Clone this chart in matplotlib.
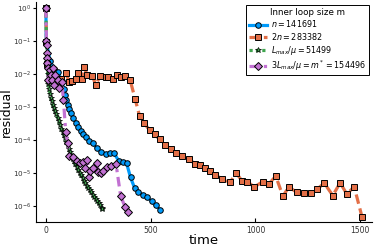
import numpy as np
import matplotlib
matplotlib.use("Agg")
import matplotlib.pyplot as plt
from matplotlib.ticker import FixedLocator, FuncFormatter, NullLocator

# n = 141691
t_n = [0, 2, 20, 40, 57, 75, 85, 92, 96, 105, 112, 120, 131, 144, 155, 168, 179, 192,
       208, 224, 243, 262, 287, 306, 325, 349, 368, 385, 404, 423, 442, 463, 482, 505,
       524, 545]
r_n = [1.0, 1e-1, 2.5e-2, 1.4e-2, 1.15e-2, 6.3e-3, 3.5e-3, 2.3e-3, 1.6e-3, 1.15e-3,
       8.5e-4, 6.5e-4, 4.6e-4, 3.3e-4, 2.5e-4, 1.9e-4, 1.5e-4, 1.2e-4, 9.5e-5, 8.1e-5,
       5.6e-5, 4.5e-5, 3.8e-5, 4.0e-5, 4.0e-5, 2.3e-5, 2.2e-5, 2.0e-5, 7.4e-6, 3.6e-6,
       2.7e-6, 2.2e-6, 1.9e-6, 1.4e-6, 1.05e-6, 7.9e-7]

# 2n = 283382
t_2n = [0, 3, 6, 20, 45, 70, 95, 111, 124, 143, 155, 171, 182, 198, 222, 238, 259, 285,
        298, 319, 338, 358, 378, 402, 426, 447, 470, 495, 519, 543, 569, 595, 621, 649,
        681, 712, 736, 760, 784, 808, 840, 879, 908, 935, 962, 994, 1035, 1064, 1097,
        1131, 1159, 1198, 1232, 1264, 1293, 1328, 1369, 1404, 1436, 1471, 1508]
r_2n = [1.0, 9e-2, 2.0e-2, 1.0e-2, 8.0e-3, 7.0e-3, 1.1e-2, 5.9e-3, 6.2e-3, 7.1e-3, 1.1e-2,
        6.9e-3, 1.66e-2, 9.1e-3, 8.7e-3, 4.7e-3, 8.7e-3, 8.3e-3, 7.9e-3, 6.9e-3, 9.1e-3,
        8.1e-3, 8.7e-3, 6.6e-3, 1.74e-3, 5.4e-4, 3.2e-4, 2.0e-4, 1.48e-4, 1.05e-4, 7.1e-5,
        5.4e-5, 4.2e-5, 3.4e-5, 2.6e-5, 1.95e-5, 1.7e-5, 1.45e-5, 1.17e-5, 8.7e-6, 6.8e-6,
        5.2e-6, 1.02e-5, 5.9e-6, 5.5e-6, 3.8e-6, 5.5e-6, 4.7e-6, 8.1e-6, 2.0e-6, 3.8e-6,
        2.6e-6, 2.45e-6, 2.5e-6, 3.2e-6, 5.0e-6, 2.1e-6, 5.1e-6, 2.3e-6, 3.9e-6, 4.8e-7]

# L_max / mu = 51499
t_L = [0, 3, 6, 9, 12, 16, 20, 24, 28, 33, 38, 44, 50, 56, 62, 68, 74, 80, 86, 92, 98,
       104, 110, 116, 122, 128, 134, 140, 147, 154, 161, 168, 175, 182, 189, 196, 203,
       210, 217, 224, 231, 238, 245, 252, 259, 266, 270]
r_L = [1.0, 1e-1, 2.0e-2, 1.0e-2, 5.0e-3, 3.5e-3, 2.5e-3, 1.9e-3, 1.5e-3, 1.12e-3,
       9.3e-4, 7.6e-4, 6.0e-4, 4.8e-4, 3.7e-4, 2.8e-4, 2.2e-4, 1.8e-4, 1.45e-4, 1.17e-4,
       8.9e-5, 7.2e-5, 5.5e-5, 4.4e-5, 3.4e-5, 2.75e-5, 2.3e-5, 1.9e-5, 1.55e-5, 1.26e-5,
       1.02e-5, 8.5e-6, 6.9e-6, 5.8e-6, 4.9e-6, 4.2e-6, 3.5e-6, 3.0e-6, 2.6e-6, 2.2e-6,
       1.9e-6, 1.66e-6, 1.41e-6, 1.23e-6, 1.05e-6, 8.9e-7, 8.3e-7]

# 3 L_max / mu = m* = 154496
t_3L = [0, 3, 4, 5, 6, 7, 9, 12, 20, 24, 28, 36, 40, 44, 60, 64, 76, 84, 95, 105, 112,
        128, 147, 163, 179, 187, 198, 208, 211, 224, 243, 251, 262, 274, 294, 311, 335,
        357, 378, 394]
r_3L = [1.0, 1.0e-1, 7.6e-2, 4.3e-2, 3.0e-2, 2.1e-2, 1.48e-2, 6.6e-3, 1.32e-2, 9.3e-3,
        6.6e-3, 1.48e-2, 4.7e-3, 9.3e-3, 6.6e-3, 3.7e-3, 5.9e-3, 1.6e-3, 1.74e-4, 8.1e-5,
        3.3e-5, 3.0e-5, 2.3e-5, 2.0e-5, 2.2e-5, 1.38e-5, 2.45e-5, 7.4e-6, 1.17e-5, 1.38e-5,
        2.0e-5, 1.1e-5, 9.8e-6, 1.17e-5, 1.48e-5, 1.62e-5, 1.86e-5, 2.0e-6, 9.5e-7, 6.8e-7]

labels = [r"$n = 141691$", r"$2n = 283382$", r"$L_{max}/\mu = 51499$",
          r"$3L_{max}/\mu = m^* = 154496$"]
y_ticks = [1e0, 1e-1, 1e-2, 1e-3, 1e-4, 1e-5, 1e-6]
x_ticks = [0, 500, 1000, 1500]


def sci(v, pos):
    e = int(round(np.log10(v)))
    return r"$10^{%d}$" % e


fig = plt.figure(figsize=(3.74, 2.49), dpi=100)
ax = fig.add_axes([36 / 374, 27 / 249, 336 / 374, 220 / 249])

ax.plot(t_n, r_n, color="#009AFA", lw=2.3, ls="-", marker="o", ms=4.0,
        mfc="#009AFA", mec="black", mew=0.7, label=labels[0])
ax.plot(t_2n, r_2n, color="#E36F47", lw=2.3, ls=(0, (3, 1.5)), marker="s", ms=3.8,
        mfc="#E36F47", mec="black", mew=0.7, label=labels[1])
ax.plot(t_L, r_L, color="#3EA44E", lw=2.3, ls=(0, (1, 1)), marker="*", ms=4.0,
        mfc="#3EA44E", mec="black", mew=0.5, label=labels[2])
ax.plot(t_3L, r_3L, color="#C271D2", lw=2.3, ls=(0, (3, 1.5, 1, 1.5)), marker="D", ms=3.6,
        mfc="#C271D2", mec="black", mew=0.7, label=labels[3])

ax.set_yscale("log")
ax.set_xlim(-47, 1556)
ax.set_ylim(10 ** -6.48, 10 ** 0.18)
ax.set_xticks(x_ticks)
ax.yaxis.set_major_locator(FixedLocator(y_ticks))
ax.yaxis.set_major_formatter(FuncFormatter(sci))
ax.yaxis.set_minor_locator(NullLocator())

for s in ["top", "right"]:
    ax.spines[s].set_visible(False)
ax.tick_params(axis="x", direction="in", length=3, labelsize=5.5, labelcolor="#333333", pad=3)
ax.tick_params(axis="y", direction="out", length=2, labelsize=5.2, labelcolor="#333333", pad=1.5)

ax.set_xlabel("time", fontsize=9.5)
ax.set_ylabel("residual", fontsize=9)
ax.xaxis.set_label_coords(0.5, -0.086)
ax.yaxis.set_label_coords(-0.088, 0.5)
ax.xaxis.label.set_va("center")
ax.yaxis.label.set_va("center")

leg = ax.legend(title="Inner loop size m", loc="upper right", bbox_to_anchor=(0.99, 0.985),
                borderaxespad=0, fontsize=5.8, title_fontsize=6.3, fancybox=False,
                edgecolor="black", framealpha=1, handlelength=2.3, labelspacing=0.2,
                borderpad=0.3, handletextpad=0.5)
leg.get_frame().set_linewidth(0.7)

fig.savefig("out.png", dpi=100)
